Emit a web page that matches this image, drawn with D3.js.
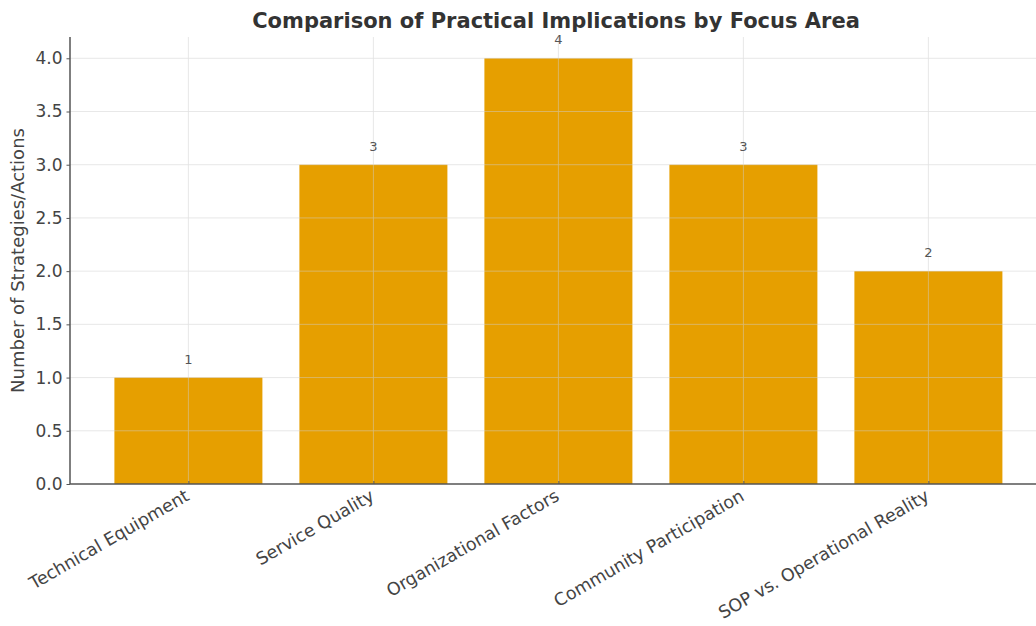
<!DOCTYPE html>
<html>
<head>
<meta charset="utf-8">
<script src="https://cdn.jsdelivr.net/npm/d3@7"></script>
<style>
  html, body { margin: 0; padding: 0; background: #fff; }
  svg { display: block; }
  text { font-family: "DejaVu Sans", sans-serif; }
</style>
</head>
<body>
<svg id="chart" width="1036" height="626"></svg>
<script>
// Focus areas and how many strategies/actions each one has
const categories = [
  "Technical Equipment",
  "Service Quality",
  "Organizational Factors",
  "Community Participation",
  "SOP vs. Operational Reality"
];
const counts = [1, 3, 4, 3, 2];
const yTicks = [0, 0.5, 1, 1.5, 2, 2.5, 3, 3.5, 4];

const title = "Comparison of Practical Implications by Focus Area";
const yLabel = "Number of Strategies/Actions";

const W = 1036, H = 626;
const margin = { left: 70, top: 37, bottom: 142 };
const plotBottom = H - margin.bottom; // 484
const unit = 185; // pixels per category step
const svg = d3.select("#chart");

// categorical axis as a linear scale over indices (bars 0.8 wide, 5% padding)
const x = d3.scaleLinear()
  .domain([-0.64, 4.64])
  .range([margin.left, margin.left + 5.28 * unit]);
const y = d3.scaleLinear().domain([0, 4.2]).range([plotBottom, margin.top]);

const barColor = "#E69F00";
const gridColor = "#cfcfcf";
const textColor = "#444";

// bars
svg.append("g").selectAll("rect")
  .data(counts)
  .join("rect")
  .attr("x", (d, i) => x(i - 0.4))
  .attr("width", (d, i) => x(i + 0.4) - x(i - 0.4))
  .attr("y", d => y(d))
  .attr("height", d => y(0) - y(d))
  .attr("fill", barColor);

// grid drawn over the bars, faint
const grid = svg.append("g").attr("stroke", gridColor).attr("stroke-width", 0.8).attr("opacity", 0.6);
grid.selectAll("line.h")
  .data(yTicks.filter(t => t > 0))
  .join("line")
  .attr("x1", margin.left).attr("x2", W)
  .attr("y1", d => y(d)).attr("y2", d => y(d));
grid.selectAll("line.v")
  .data(categories.map((c, i) => i))
  .join("line")
  .attr("x1", d => x(d)).attr("x2", d => x(d))
  .attr("y1", margin.top).attr("y2", plotBottom);

// value labels
svg.append("g").selectAll("text")
  .data(counts)
  .join("text")
  .attr("x", (d, i) => x(i))
  .attr("y", d => y(d) - 14)
  .attr("text-anchor", "middle")
  .attr("font-size", 13)
  .attr("fill", "#555")
  .text(d => d);

// y axis
const yAxis = svg.append("g")
  .attr("transform", `translate(${margin.left},0)`)
  .call(d3.axisLeft(y).tickValues(yTicks).tickFormat(d3.format(".1f")).tickSize(3.5).tickPadding(4));
yAxis.select(".domain").attr("stroke", "#555").attr("stroke-width", 1.5).attr("d", `M0,${margin.top}V${plotBottom}`);
yAxis.selectAll(".tick line").attr("stroke", "#555");
yAxis.selectAll(".tick text").attr("font-size", 17).attr("fill", textColor)
  .attr("font-family", "DejaVu Sans, sans-serif");

// x axis
const xAxis = svg.append("g")
  .attr("transform", `translate(0,${plotBottom})`)
  .call(d3.axisBottom(x).tickValues(categories.map((c, i) => i))
    .tickFormat(i => categories[i]).tickSize(-3).tickPadding(8));
xAxis.select(".domain").attr("stroke", "#555").attr("stroke-width", 1.5).attr("d", `M${margin.left},0H${W}`);
xAxis.selectAll(".tick line").attr("stroke", "#555");
xAxis.selectAll(".tick text")
  .attr("font-size", 17.5).attr("fill", textColor)
  .attr("font-family", "DejaVu Sans, sans-serif")
  .attr("text-anchor", "end")
  .attr("dy", "0.75em")
  .attr("transform", "translate(-5,4) rotate(-30)")
  .attr("y", 0).attr("x", 0);

// y label
svg.append("text")
  .attr("transform", `translate(17,${(margin.top + plotBottom) / 2}) rotate(-90)`)
  .attr("text-anchor", "middle")
  .attr("dominant-baseline", "central")
  .attr("font-size", 18)
  .attr("fill", textColor)
  .text(yLabel);

// title
svg.append("text")
  .attr("x", 556)
  .attr("y", 28)
  .attr("text-anchor", "middle")
  .attr("font-size", 21)
  .attr("font-weight", "bold")
  .attr("fill", "#333")
  .text(title);
</script>
</body>
</html>
